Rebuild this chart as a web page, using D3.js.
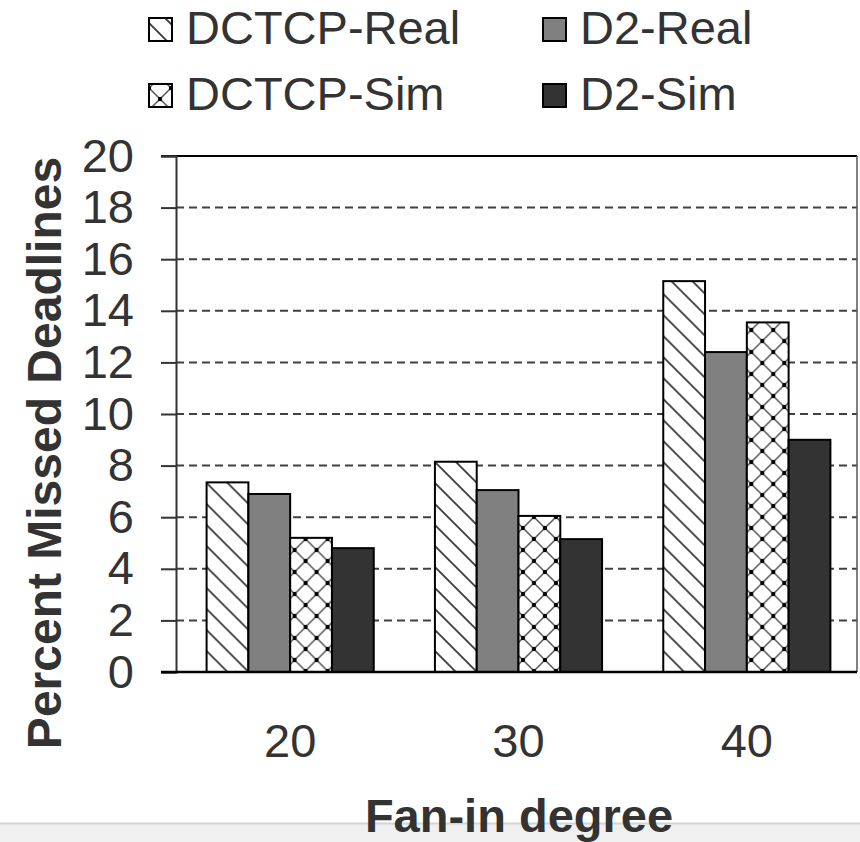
<!DOCTYPE html>
<html>
<head>
<meta charset="utf-8">
<script src="https://cdn.jsdelivr.net/npm/d3@7"></script>
<style>
  body { margin: 0; background: #fff; }
  text { font-family: "Liberation Sans", Arial, sans-serif; fill: #333; }
</style>
</head>
<body>
<div id="chart"></div>
<script>
// data
var categories = ["20", "30", "40"];
var seriesNames = ["DCTCP-Real", "D2-Real", "DCTCP-Sim", "D2-Sim"];
var dctcpReal = [7.35, 8.15, 15.15];
var d2Real = [6.9, 7.05, 12.4];
var dctcpSim = [5.2, 6.05, 13.55];
var d2Sim = [4.8, 5.15, 9.0];
var yTicks = [0, 2, 4, 6, 8, 10, 12, 14, 16, 18, 20];

var values = [dctcpReal, d2Real, dctcpSim, d2Sim];

var W = 860, H = 842;
var margin = {top: 156, left: 176, bottom: 170},
    plotRight = 857,
    height = H - margin.top - margin.bottom;

var svg = d3.select("#chart")
  .append("svg")
  .attr("width", W)
  .attr("height", H);

// hatch patterns
var defs = svg.append("defs");

var p1 = defs.append("pattern")
  .attr("id", "hatch")
  .attr("patternUnits", "userSpaceOnUse")
  .attr("width", 21).attr("height", 21);
p1.append("rect").attr("width", 21).attr("height", 21).attr("fill", "#fff");
p1.append("path")
  .attr("d", "M-3,-3 L24,24 M-3,18 L3,24 M18,-3 L24,3")
  .attr("stroke", "#3a3a3a").attr("stroke-width", 1.8);

var p2 = defs.append("pattern")
  .attr("id", "cross")
  .attr("patternUnits", "userSpaceOnUse")
  .attr("width", 22).attr("height", 22);
p2.append("rect").attr("width", 22).attr("height", 22).attr("fill", "#fff");
p2.append("path")
  .attr("d", "M0,0 L22,22 M22,0 L0,22")
  .attr("stroke", "#555").attr("stroke-width", 1.5);
p2.selectAll("circle")
  .data([[0, 0], [22, 0], [0, 22], [22, 22], [11, 11]])
  .enter().append("circle")
  .attr("cx", function(d) { return d[0]; })
  .attr("cy", function(d) { return d[1]; })
  .attr("r", 2.2)
  .attr("fill", "#000");

var fills = ["url(#hatch)", "#808080", "url(#cross)", "#333333"];

// scales
var x = d3.scaleBand()
  .domain(categories)
  .range([margin.left, 861])
  .paddingInner(0.268)
  .paddingOuter(0.134);

var xs = d3.scaleBand()
  .domain(d3.range(seriesNames.length))
  .range([0, x.bandwidth()]);

var y = d3.scaleLinear()
  .domain([0, 20])
  .range([margin.top + height, margin.top]);

// dashed grid lines
svg.append("g")
  .selectAll("line")
  .data(yTicks.filter(function(d) { return d > 0 && d < 20; }))
  .enter().append("line")
  .attr("x1", margin.left).attr("x2", plotRight)
  .attr("y1", function(d) { return y(d); })
  .attr("y2", function(d) { return y(d); })
  .attr("stroke", "#404040")
  .attr("stroke-width", 2)
  .attr("stroke-dasharray", "8,5");

// top and right frame
svg.append("line")
  .attr("x1", margin.left - 15).attr("x2", plotRight)
  .attr("y1", y(20)).attr("y2", y(20))
  .attr("stroke", "#000").attr("stroke-width", 2);
svg.append("line")
  .attr("x1", plotRight).attr("x2", plotRight)
  .attr("y1", y(20)).attr("y2", y(0))
  .attr("stroke", "#555").attr("stroke-width", 1.5);

// bars
var groups = svg.append("g")
  .selectAll("g")
  .data(categories)
  .enter().append("g")
  .attr("transform", function(d) { return "translate(" + x(d) + ",0)"; });

groups.selectAll("rect")
  .data(function(d, i) { return values.map(function(v, s) { return {s: s, v: v[i]}; }); })
  .enter().append("rect")
  .attr("x", function(d) { return xs(d.s); })
  .attr("y", function(d) { return y(d.v); })
  .attr("width", xs.bandwidth())
  .attr("height", function(d) { return y(0) - y(d.v); })
  .attr("fill", function(d) { return fills[d.s]; })
  .attr("stroke", "#000")
  .attr("stroke-width", 2);

// Y axis
var yAxis = svg.append("g")
  .attr("transform", "translate(" + margin.left + ",0)")
  .call(d3.axisLeft(y).tickValues(yTicks).tickSize(15).tickPadding(27));
yAxis.select(".domain").attr("stroke", "#333").attr("stroke-width", 2);
yAxis.selectAll(".tick line").attr("stroke", "#333").attr("stroke-width", 2);
yAxis.selectAll("text")
  .style("font-size", "47px")
  .attr("fill", "#333");

// X axis (labels only, baseline drawn separately)
var xAxis = svg.append("g")
  .attr("transform", "translate(0," + y(0) + ")")
  .call(d3.axisBottom(x).tickSize(0).tickPadding(52));
xAxis.select(".domain").remove();
xAxis.selectAll("text")
  .style("font-size", "47px")
  .attr("fill", "#333");

svg.append("line")
  .attr("x1", margin.left - 15).attr("x2", plotRight)
  .attr("y1", y(0)).attr("y2", y(0))
  .attr("stroke", "#000").attr("stroke-width", 2.5);

// grey strip at the bottom of the picture
svg.append("rect")
  .attr("x", 0).attr("y", 823)
  .attr("width", W).attr("height", H - 823)
  .attr("fill", "#f0f0f0");
svg.append("line")
  .attr("x1", 0).attr("x2", W)
  .attr("y1", 823.5).attr("y2", 823.5)
  .attr("stroke", "#d4d4d4").attr("stroke-width", 2);

// axis titles
svg.append("text")
  .attr("x", 519)
  .attr("y", 832)
  .attr("text-anchor", "middle")
  .style("font-size", "47px")
  .style("font-weight", "bold")
  .text("Fan-in degree");

svg.append("text")
  .attr("transform", "translate(61,453) rotate(-90)")
  .attr("text-anchor", "middle")
  .style("font-size", "48px")
  .style("font-weight", "bold")
  .text("Percent Missed Deadlines");

// legend, 2 x 2
var legX = [149, 543], legY = [44, 110];
var leg = svg.append("g")
  .selectAll("g")
  .data(seriesNames)
  .enter().append("g")
  .attr("transform", function(d, i) {
    return "translate(" + legX[i % 2] + "," + legY[Math.floor(i / 2)] + ")";
  });

leg.append("rect")
  .attr("x", 0).attr("y", -26)
  .attr("width", 23).attr("height", 23)
  .attr("fill", function(d, i) { return fills[i]; })
  .attr("stroke", "#000")
  .attr("stroke-width", 2);

leg.append("text")
  .attr("x", 37)
  .attr("y", 0)
  .style("font-size", "47px")
  .text(function(d) { return d; });
</script>
</body>
</html>
